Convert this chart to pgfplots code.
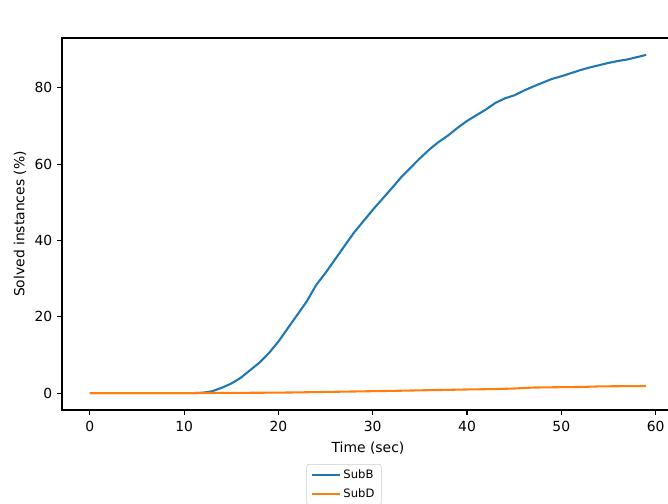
\documentclass[border=0pt]{standalone}
\usepackage{pgfplots}
\pgfplotsset{compat=1.18}
\usepackage{fontspec}
\setmainfont{DejaVu Sans}

\definecolor{tabblue}{HTML}{1F77B4}
\definecolor{taborange}{HTML}{FF7F0E}

% Solved share (%) per second of run time
\pgfplotstableread{
t v
0 0
1 0
2 0
3 0
4 0
5 0
6 0
7 0
8 0
9 0
10 0
11 0
12 0.1
13 0.5
14 1.4
15 2.5
16 4
17 6
18 8
19 10.5
20 13.5
21 17
22 20.5
23 24
24 28.3
25 31.5
26 35
27 38.5
28 42
29 45
30 48
31 50.8
32 53.6
33 56.5
34 59
35 61.5
36 63.8
37 65.8
38 67.5
39 69.5
40 71.3
41 72.8
42 74.3
43 76
44 77.2
45 78
46 79.2
47 80.3
48 81.3
49 82.3
50 83
51 83.8
52 84.6
53 85.3
54 85.9
55 86.5
56 87
57 87.4
58 88
59 88.6
}\subB

\pgfplotstableread{
t v
0 0
5 0
10 0
15 0.05
20 0.12
22 0.18
25 0.3
28 0.42
30 0.5
33 0.62
35 0.72
38 0.85
40 0.95
43 1.05
45 1.2
47 1.45
50 1.55
52 1.6
54 1.75
56 1.8
59 1.85
}\subD

\begin{document}
\begin{tikzpicture}
\begin{axis}[
  scale only axis,
  width=440.64pt, height=267.84pt,
  xmin=-2.95, xmax=61.95,
  ymin=-4.43, ymax=93.03,
  xtick={0,10,...,60},
  ytick={0,20,...,80},
  tick align=outside,
  major tick length=3.5pt,
  every tick/.style={black, line width=0.8pt},
  axis line style={line width=0.8pt},
  xtick pos=bottom, ytick pos=left,
  /pgf/number format/assume math mode=true,
  tick label style={font=\fontsize{10}{12}\selectfont},
  xticklabel style={yshift=-1pt},
  label style={font=\fontsize{10}{12}\selectfont},
  xlabel={Time (sec)},
  ylabel={Solved instances (\%)},
  xlabel style={at={(axis description cs:0.5,-0.1022)}, anchor=center},
  ylabel style={at={(axis description cs:-0.0686,0.5)}, anchor=center},
  legend style={
    at={(axis description cs:0.4608,-0.1452)}, anchor=north,
    font=\fontsize{8.33}{10}\selectfont,
    draw=black!20, rounded corners=1.7pt,
    row sep=1.5pt,
  },
  legend image code/.code={\draw[#1] (0pt,0pt) -- (20pt,0pt);},
  legend cell align=left,
]
\addplot[tabblue, line width=1.5pt] table[x=t, y=v] {\subB};
\addlegendentry{SubB}
\addplot[taborange, line width=1.5pt] table[x=t, y=v] {\subD};
\addlegendentry{SubD}
\coordinate (O) at (rel axis cs:0,0);
\node[font=\fontsize{12}{14}\selectfont, anchor=center]
  at (axis description cs:0.4608,1.0538) {Performance profiles for LongSpan instances};
\end{axis}
\pgfresetboundingbox
\path[use as bounding box] ([shift={(-44.64pt,-67.68pt)}]O) rectangle ([shift={(436.32pt,295.2pt)}]O);
\end{tikzpicture}
\end{document}
